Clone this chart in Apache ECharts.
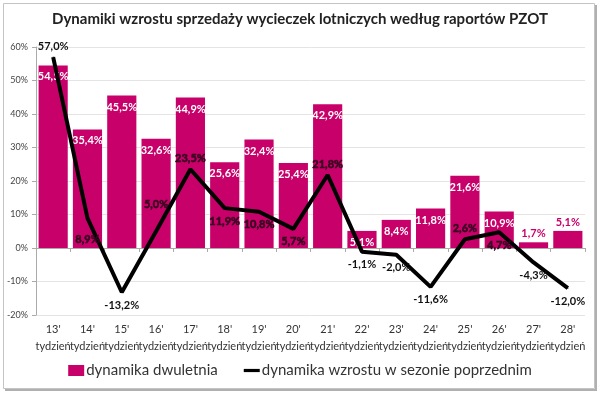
<!DOCTYPE html>
<html><head><meta charset="utf-8">
<script src="https://cdn.jsdelivr.net/npm/echarts@6/dist/echarts.min.js"></script>
<style>html,body{margin:0;padding:0;background:#fff}#c{width:600px;height:393px}</style>
</head><body><div id="c"></div>
<script>
const weeks = ["13'","14'","15'","16'","17'","18'","19'","20'","21'","22'","23'","24'","25'","26'","27'","28'"];
const biennial = [54.5,35.4,45.5,32.6,44.9,25.6,32.4,25.4,42.9,5.1,8.4,11.8,21.6,10.9,1.7,5.1];
const prevSeason = [57.0,8.9,-13.2,5.0,23.5,11.9,10.8,5.7,21.8,-1.1,-2.0,-11.6,2.6,4.7,-4.3,-12.0];
const lineLabelPos = ['top','bottom','bottom','top','top','bottom','bottom','bottom','top','bottom','bottom','bottom','top','bottom','bottom','bottom'];
const lineOverBar = [false,true,false,true,true,true,true,true,true,false,false,false,true,true,false,false];
const barLabelOutside = [false,false,false,false,false,false,false,false,false,false,false,false,false,false,true,true];
const yTicks = {min:-20,max:60,interval:10};
const seriesNames = ['dynamika dwuletnia','dynamika wzrostu w sezonie poprzednim'];

const fmt = v => v.toFixed(1).replace('.', ',') + '%';
const MAG = '#C8006A';
const FONT = 'Lato, "Open Sans", sans-serif';

const barData = biennial.map((v,i)=>({
  value:v,
  label: barLabelOutside[i]
    ? {position:'top', distance:3, color:MAG}
    : {position:'insideTop', distance:6, color:'#fff'}
}));
const extraDist = [0,8,0,16,0,0,0,0,0,0,0,0,0,0,0,0];
const lineData = prevSeason.map((v,i)=>({
  value:v,
  label: lineOverBar[i]
    ? {position:lineLabelPos[i], distance:(lineLabelPos[i]==='bottom'?7:5) + extraDist[i], color:'#33041e', textBorderColor:'#33041e', textBorderWidth:0.5}
    : {position:lineLabelPos[i], distance:(lineLabelPos[i]==='bottom'?7:5) + extraDist[i], color:'#111'}
}));

const chart = echarts.init(document.getElementById('c'));
chart.setOption({
  animation:false,
  textStyle:{fontFamily:FONT},
  graphic:[
    {type:'rect', shape:{x:3.5,y:3.5,width:591,height:385}, style:{fill:'none', stroke:'#c4c4c4', lineWidth:1}, silent:true},
    {type:'polyline', shape:{points:[[596,5],[596,390],[5,390]]}, style:{fill:'none', stroke:'#b0b0b0', lineWidth:2}, silent:true}
  ],
  title:{text:'Dynamiki wzrostu sprzedaży wycieczek lotniczych według raportów PZOT', left:'center', top:7,
    textStyle:{fontSize:15, fontWeight:'bold', color:'#222', fontFamily:FONT}},
  legend:{bottom:10, left:'center', itemGap:26, itemWidth:16, itemHeight:11,
    textStyle:{fontSize:15, color:'#333', fontFamily:FONT, padding:[0,0,0,-3]},
    data:[{name:seriesNames[0], icon:'rect'},{name:seriesNames[1], icon:'path://M0,0L20,0L20,4L0,4Z'}]},
  grid:{left:36, right:15, top:47, bottom:78, containLabel:false},
  xAxis:[
    {type:'category', data:weeks, position:'bottom',
     axisLine:{onZero:true, lineStyle:{color:'#aaa'}}, axisTick:{show:true, length:4, lineStyle:{color:'#aaa'}},
     axisLabel:{show:false}},
    {type:'category', data:weeks, position:'bottom', offset:0,
     axisLine:{show:false}, axisTick:{show:false},
     axisLabel:{interval:0, margin:6, fontSize:11, color:'#333', lineHeight:17,
       formatter: v => v + '\ntydzień'}}
  ],
  yAxis:{type:'value', min:yTicks.min, max:yTicks.max, interval:yTicks.interval,
    axisLine:{show:true, lineStyle:{color:'#aaa'}}, axisTick:{show:true, length:4, lineStyle:{color:'#aaa'}},
    axisLabel:{formatter:'{value}%', fontSize:9, color:'#444', margin:8},
    splitLine:{lineStyle:{color:'#e4e4e4'}}},
  series:[
    {name:seriesNames[0], type:'bar', xAxisIndex:0, data:barData, barCategoryGap:'15%',
     itemStyle:{color:MAG},
     label:{show:true, fontSize:11, fontWeight:'bold', formatter:p=>fmt(p.value), fontFamily:FONT}},
    {name:seriesNames[1], type:'line', xAxisIndex:0, data:lineData, symbol:'circle', symbolSize:1, showSymbol:true,
     lineStyle:{color:'#000', width:4}, itemStyle:{color:'#000'},
     labelLayout:{hideOverlap:false},
     label:{show:true, fontSize:11, fontWeight:'bold', formatter:p=>fmt(p.value), fontFamily:FONT}}
  ]
});
</script></body></html>
